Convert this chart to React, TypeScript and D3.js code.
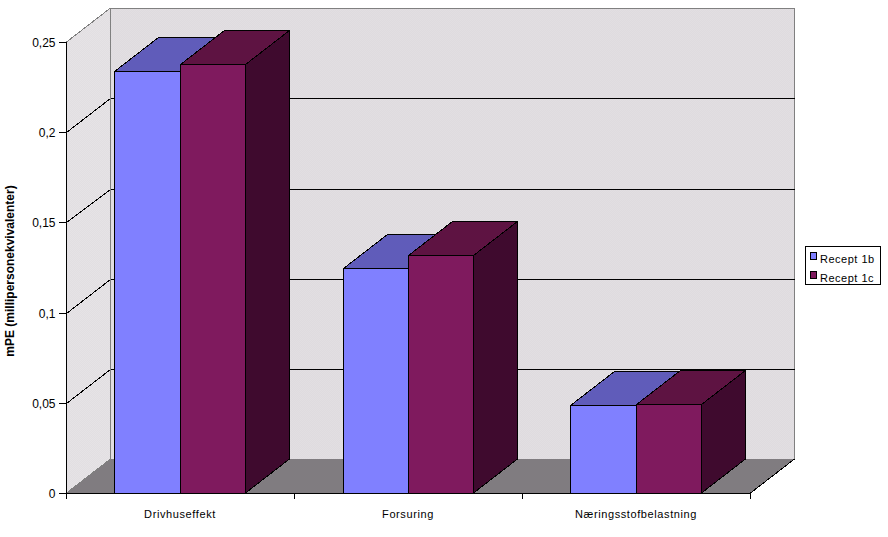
import React from "react";
import * as d3 from "d3";

const categories = ["Drivhuseffekt", "Forsuring", "Næringsstofbelastning"];
const recept1b = [0.234, 0.1247, 0.0488];
const recept1c = [0.2378, 0.132, 0.0493];
const seriesNames = ["Recept 1b", "Recept 1c"];
const yTicks = [0, 0.05, 0.1, 0.15, 0.2, 0.25];
const yTickLabels = ["0", "0,05", "0,1", "0,15", "0,2", "0,25"];

const front = ["#8080ff", "#7f1a5e"];
const top = ["#605cba", "#5e1342"];
const side = ["#4a4790", "#3f0a2e"];

const DX = 44;
const DY = -34;
const y = d3.scaleLinear().domain([0, 0.25]).range([493, 42]);
const x = d3.scaleBand<string>().domain(categories).range([66.5, 750.5]);
const font = "'Liberation Sans', Arial, sans-serif";

const pts = (a: number[][]) => a.map((p) => p.join(",")).join(" ");
const snap = (v: number) => Math.floor(v) + 0.5;

function Bar({ x0, x1, v, s }: { x0: number; x1: number; v: number; s: number }) {
  const yt = Math.round(y(v)) + 0.5;
  const yb = y(0);
  const l = snap(x0);
  const r = snap(x1);
  return (
    <g stroke="#000" strokeWidth={1} shapeRendering="crispEdges">
      <polygon fill={side[s]} points={pts([[r, yt], [r + DX, yt + DY], [r + DX, yb + DY], [r, yb]])} />
      <polygon fill={top[s]} points={pts([[l, yt], [l + DX, yt + DY], [r + DX, yt + DY], [r, yt]])} />
      <rect x={l} y={yt} width={r - l} height={yb - yt} fill={front[s]} />
    </g>
  );
}

export default function App() {
  const x0 = x(categories[0])!;
  const xEnd = x0 + x.bandwidth() * categories.length;
  const y0 = y(0);
  const yMax = y(0.25);
  const barW = 65.4;
  return (
    <svg width={888} height={537} style={{ position: "absolute", left: 0, top: 0 }} fontFamily={font}>
      <defs>
        <pattern id="wall" width={2} height={2} patternUnits="userSpaceOnUse">
          <rect width={2} height={2} fill="#dfdbdf" />
          <rect width={1} height={1} fill="#e2dfe2" />
          <rect x={1} y={1} width={1} height={1} fill="#e2dfe2" />
        </pattern>
        <pattern id="sidewall" width={2} height={2} patternUnits="userSpaceOnUse">
          <rect width={2} height={2} fill="#e2dfe2" />
          <rect width={1} height={1} fill="#e6e3e6" />
          <rect x={1} y={1} width={1} height={1} fill="#e6e3e6" />
        </pattern>
      </defs>
      {/* walls */}
      <polygon
        points={pts([[x0, y0], [x0 + DX, y0 + DY], [x0 + DX, yMax + DY], [x0, yMax]])}
        fill="url(#sidewall)"
        shapeRendering="crispEdges"
      />
      <rect x={x0 + DX} y={yMax + DY} width={xEnd - x0} height={y0 - yMax} fill="url(#wall)" stroke="#808080" shapeRendering="crispEdges" />
      <polygon
        points={pts([[x0, y0], [x0 + DX, y0 + DY], [xEnd + DX, y0 + DY], [xEnd, y0]])}
        fill="#807c80"
        shapeRendering="crispEdges"
      />
      <line x1={x0} y1={yMax} x2={x0 + DX} y2={yMax + DY} stroke="#808080" shapeRendering="crispEdges" />
      <line x1={xEnd} y1={y0} x2={xEnd + DX} y2={y0 + DY} stroke="#000" shapeRendering="crispEdges" />
      <line x1={x0} y1={y0} x2={x0 + DX} y2={y0 + DY} stroke="#808080" shapeRendering="crispEdges" />
      {/* grid */}
      {yTicks.filter((t) => t > 0 && t < 0.25).map((t) => {
        const yy = Math.round(y(t)) + 0.5;
        const yg = Math.round(y(t) + DY + 0.25) + 0.5;
        return (
          <g key={t} stroke="#000" shapeRendering="crispEdges">
            <line x1={x0} y1={yy} x2={x0 + DX} y2={yg} />
            <line x1={x0 + DX} y1={yg} x2={xEnd + DX} y2={yg} />
          </g>
        );
      })}
      {/* bars */}
      {categories.map((c, i) => {
        const b = x(c)! + 48.2 + (i === 1 ? 0.3 : 0);
        return (
          <g key={c}>
            <Bar x0={b} x1={b + barW} v={recept1b[i]} s={0} />
            <Bar x0={b + barW} x1={b + 2 * barW} v={recept1c[i]} s={1} />
          </g>
        );
      })}
      {/* axes */}
      <g stroke="#000" shapeRendering="crispEdges">
        <line x1={x0} y1={yMax} x2={x0} y2={y0} />
        <line x1={x0} y1={y0} x2={xEnd} y2={y0} />
        {yTicks.map((t) => {
          const yy = Math.round(y(t)) + 0.5;
          return <line key={t} x1={x0 - 8} y1={yy} x2={x0} y2={yy} />;
        })}
        {d3.range(categories.length + 1).map((i) => {
          const xx = x0 + i * x.bandwidth();
          return <line key={i} x1={xx} y1={y0} x2={xx} y2={y0 + 6} />;
        })}
      </g>
      {yTicks.map((t, i) => (
        <text key={t} x={55.5} y={Math.round(y(t)) + 4.5} textAnchor="end" fontSize={12} fill="#000">
          {yTickLabels[i]}
        </text>
      ))}
      {categories.map((c) => (
        <text key={c} x={x(c)! + x.bandwidth() / 2 - 0.5} y={517.5} textAnchor="middle" fontSize={11} letterSpacing={0.6} fill="#000">
          {c}
        </text>
      ))}
      <text transform="translate(14,271) rotate(-90)" textAnchor="middle" fontSize={12} fontWeight="bold" fill="#000">
        mPE (millipersonekvivalenter)
      </text>
      {/* legend */}
      <rect x={805.5} y={246.5} width={75} height={38} fill="#fff" stroke="#000" shapeRendering="crispEdges" />
      {seriesNames.map((n, i) => (
        <g key={n}>
          <rect x={810.5} y={252.5 + i * 19} width={6} height={7} fill={front[i]} stroke="#000" shapeRendering="crispEdges" />
          <text x={820} y={263 + i * 19} fontSize={11} letterSpacing={0.5} fill="#000">
            {n}
          </text>
        </g>
      ))}
    </svg>
  );
}
